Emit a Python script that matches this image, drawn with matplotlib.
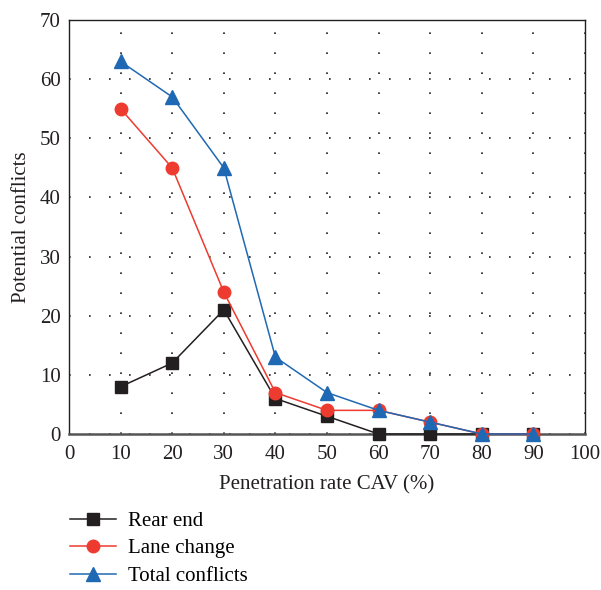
import matplotlib
matplotlib.use("Agg")
import matplotlib.pyplot as plt

penetration = [10, 20, 30, 40, 50, 60, 70, 80, 90]
rear_end = [8, 12, 21, 6, 3, 0, 0, 0, 0]
lane_change = [55, 45, 24, 7, 4, 4, 2, 0, 0]
total_conflicts = [63, 57, 45, 13, 7, 4, 2, 0, 0]
x_ticks = [0, 10, 20, 30, 40, 50, 60, 70, 80, 90, 100]
y_ticks = [0, 10, 20, 30, 40, 50, 60, 70]

plt.rcParams['font.family'] = ['Liberation Serif', 'DejaVu Serif']
FS = 15

fig = plt.figure(figsize=(6.01, 5.9), dpi=100)
ax = fig.add_axes([0.1148, 0.2644, 0.8586, 0.7016])

ax.plot(penetration, rear_end, color='#231f20', marker='s', markersize=9, lw=1.1, label='Rear end', clip_on=False, zorder=3)
ax.plot(penetration, lane_change, color='#ee3b2f', marker='o', markersize=9, lw=1.1, label='Lane change', clip_on=False, zorder=4)
ax.plot(penetration, total_conflicts, color='#1f69b4', marker='^', markersize=9.5, lw=1.1, label='Total conflicts', clip_on=False, zorder=5)

ax.set_xlim(0, 100)
ax.set_ylim(0, 70)
ax.set_xticks(x_ticks)
ax.set_yticks(y_ticks)
ax.tick_params(axis='x', length=0, labelsize=FS, colors='#231f20', pad=8)
ax.tick_params(axis='y', length=0, labelsize=FS, colors='#231f20', pad=6)
ax.grid(True, linestyle=(0, (1, 11)), color='#231f20', lw=1.2)
for s in ['left', 'top', 'right']:
    ax.spines[s].set_color('#231f20')
    ax.spines[s].set_linewidth(1.0)
ax.spines['bottom'].set_color('#555555')
ax.spines['bottom'].set_linewidth(1.8)

ax.set_xlabel('Penetration rate CAV (%)', fontsize=FS, color='#231f20', labelpad=8)
ax.set_ylabel('Potential conflicts', fontsize=FS, color='#231f20', labelpad=6)

fig.legend(loc='upper left', bbox_to_anchor=(0.116, 0.1335), frameon=False,
           borderaxespad=0, borderpad=0, fontsize=FS, handlelength=2.2,
           labelspacing=0.38, handletextpad=0.6)

fig.savefig('out.png', dpi=100)
